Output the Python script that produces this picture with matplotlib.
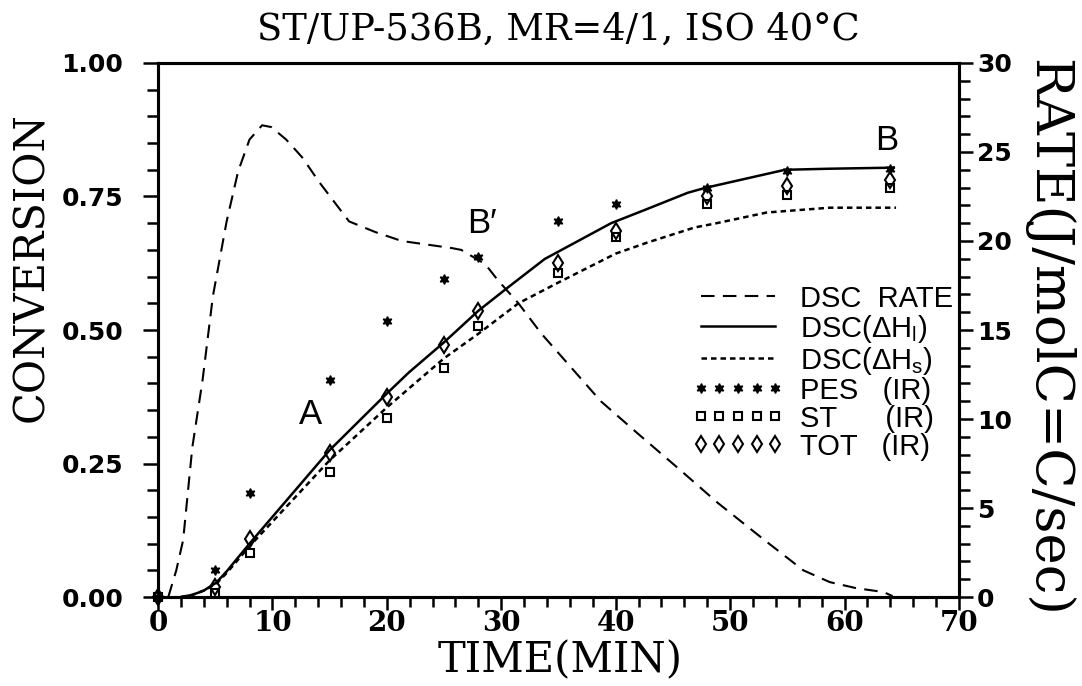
import matplotlib
matplotlib.use("Agg")
import matplotlib.pyplot as plt
from matplotlib.ticker import MultipleLocator

# DSC rate curve, right axis (J/molC=C/sec)
rate_time = [0.9, 1.6, 2.2, 3.0, 3.9, 4.8, 6.0, 7.0, 8.0, 9.1, 9.9, 11.2, 12.6,
             14.1, 15.4, 16.7, 19.0, 21.3, 25.7, 26.5, 28.6, 29.7, 31.5, 33.5,
             36.1, 38.7, 41.9, 45.7, 48.9, 53.0, 56.4, 58.7, 61.0, 63.4, 64.2]
rate_vals = [0.0, 1.5, 3.2, 8.4, 12.2, 16.9, 21.1, 23.9, 25.7, 26.5, 26.4, 25.7,
             24.7, 23.3, 22.2, 21.1, 20.5, 20.0, 19.6, 19.5, 18.7, 17.8, 16.5,
             14.8, 12.9, 11.0, 9.2, 7.1, 5.3, 3.2, 1.5, 0.84, 0.5, 0.28, 0.05]

# DSC conversion from dH_l (solid)
dhl_time = [2.0, 3.0, 4.0, 5.1, 6.0, 8.0, 15.0, 20.0, 21.9, 25.0, 28.0, 30.6,
            33.8, 39.6, 42.8, 46.3, 47.8, 54.8, 58.7, 64.3]
dhl_conv = [0.0, 0.004, 0.012, 0.027, 0.048, 0.10, 0.275, 0.381, 0.42, 0.477,
            0.536, 0.58, 0.633, 0.70, 0.727, 0.757, 0.766, 0.80, 0.802, 0.804]

# DSC conversion from dH_s (short dashes)
dhs_time = [2.0, 3.0, 4.0, 5.1, 6.0, 8.0, 15.0, 20.0, 25.0, 28.0, 31.5, 35.0,
            40.0, 42.8, 46.9, 48.6, 53.2, 58.7, 64.5]
dhs_conv = [0.0, 0.004, 0.012, 0.025, 0.045, 0.095, 0.256, 0.355, 0.447, 0.493,
            0.55, 0.589, 0.643, 0.664, 0.692, 0.699, 0.72, 0.729, 0.729]

# IR conversions
ir_time = [0, 5, 8, 15, 20, 25, 28, 35, 40, 48, 55, 64]
pes_conv = [0.0, 0.05, 0.194, 0.406, 0.516, 0.596, 0.636, 0.705, 0.736, 0.766, 0.798, 0.802]
st_conv = [0.0, 0.008, 0.082, 0.234, 0.336, 0.428, 0.508, 0.606, 0.675, 0.735, 0.753, 0.765]
tot_conv = [0.0, 0.018, 0.108, 0.269, 0.374, 0.471, 0.536, 0.626, 0.686, 0.75, 0.77, 0.78]

x_ticks = [0, 10, 20, 30, 40, 50, 60, 70]
conv_ticks = [0.0, 0.25, 0.5, 0.75, 1.0]
conv_labels = ["0.00", "0.25", "0.50", "0.75", "1.00"]
rate_ticks = [0, 5, 10, 15, 20, 25, 30]

serif = dict(family="DejaVu Serif")
thin = ["Liberation Sans", "DejaVu Sans"]
legend_font = dict(family=thin, size=21)

fig = plt.figure(figsize=(10.82, 6.86), dpi=100)
ax = fig.add_axes([0.146, 0.1297, 0.7403, 0.7785])
ax2 = ax.twinx()

l_rate, = ax2.plot(rate_time, rate_vals, color="k", lw=1.5, dashes=(6.5, 4),
                   label="DSC  RATE")
l_dhl, = ax.plot(dhl_time, dhl_conv, color="k", lw=1.8,
                 label="DSC(ΔH$_\\mathregular{l}$)")
l_dhs, = ax.plot(dhs_time, dhs_conv, color="k", lw=1.8, dashes=(2.2, 1.6),
                 label="DSC(ΔH$_\\mathregular{s}$)")
# markers are not clipped so the points at the origin stay visible
l_pes, = ax.plot(ir_time, pes_conv, ls="none", marker=(6, 1, 0), ms=7,
                 color="k", clip_on=False, zorder=4, label="PES   (IR)")
l_st, = ax.plot(ir_time, st_conv, ls="none", marker="s", ms=6, mfc="none",
                mec="k", mew=1.5, clip_on=False, zorder=4, label="ST      (IR)")
l_tot, = ax.plot(ir_time, tot_conv, ls="none", marker="d", ms=8, mfc="none",
                 mec="k", mew=1.5, clip_on=False, zorder=4, label="TOT   (IR)")

ax.set_xlim(0, 70)
ax.set_ylim(0, 1)
ax2.set_ylim(0, 30)

ax.set_xticks(x_ticks)
ax.set_yticks(conv_ticks, conv_labels)
ax2.set_yticks(rate_ticks)
ax.xaxis.set_minor_locator(MultipleLocator(2))
ax.yaxis.set_minor_locator(MultipleLocator(0.05))
ax2.yaxis.set_minor_locator(MultipleLocator(1))

ax.tick_params(which="both", direction="out", width=1.8, color="k")
ax.tick_params(which="major", length=11)
ax.tick_params(which="minor", length=8)
ax.tick_params(axis="y", which="major", pad=14)
ax.tick_params(axis="x", which="major", length=9, pad=0)
ax.tick_params(axis="x", which="minor", length=7)
ax2.tick_params(which="both", direction="out", width=1.8)
ax2.tick_params(which="major", length=10, pad=3)
ax2.tick_params(which="minor", length=8)

for lbl in ax.get_yticklabels() + ax2.get_yticklabels():
    lbl.set_fontfamily("DejaVu Sans")
    lbl.set_fontweight("bold")
    lbl.set_fontsize(18)
for lbl in ax.get_xticklabels():
    lbl.set_fontfamily("DejaVu Serif")
    lbl.set_fontweight("bold")
    lbl.set_fontsize(20)

for a in (ax, ax2):
    for sp in a.spines.values():
        sp.set_linewidth(2.2)

ax.set_title("ST/UP-536B, MR=4/1, ISO 40°C", fontsize=26.5, pad=17, **serif)
ax.set_xlabel("TIME(MIN)", fontsize=30, **serif)
ax.xaxis.set_label_coords(0.502, -0.08)
ax.set_ylabel("CONVERSION", fontsize=30, va="center", **serif)
ax.yaxis.set_label_coords(-0.158, 0.617)
ax2.set_ylabel("RATE(J/molC=C/sec)", fontsize=38, rotation=-90,
               va="center", ha="center", **serif)
ax2.yaxis.set_label_coords(1.111, 0.485)

ax.text(13.3, 0.342, "A", ha="center", va="center", fontsize=25, family=thin)
ax.text(28.3, 0.70, "B′", ha="center", va="center", fontsize=25, family=thin)
ax.text(63.7, 0.854, "B", ha="center", va="center", fontsize=25, family=thin)

handles = [l_rate, l_dhl, l_dhs, l_pes, l_st, l_tot]
ax2.legend(handles=handles, loc="upper left",
           bbox_to_anchor=(692 / 1082, 0.585), bbox_transform=fig.transFigure,
           frameon=False, prop=legend_font, numpoints=5, handlelength=3.15,
           handletextpad=0.55, labelspacing=0.0, borderpad=0, borderaxespad=0)

fig.savefig("out.png", dpi=100)
